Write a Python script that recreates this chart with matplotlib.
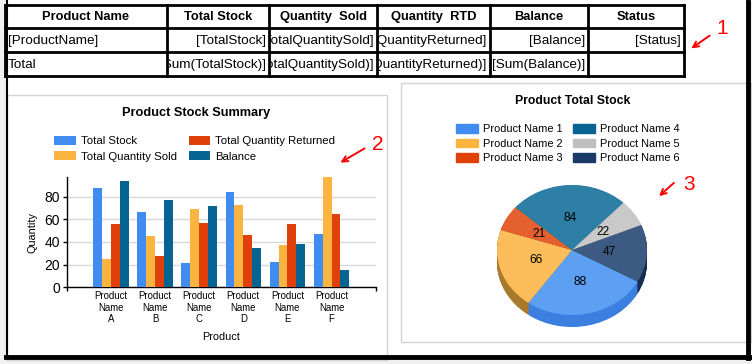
import numpy as np
import matplotlib
matplotlib.use("Agg")
import matplotlib.pyplot as plt
from matplotlib.patches import Rectangle, Patch

plt.rcParams['font.family'] = ['Liberation Sans', 'DejaVu Sans']

# ---- data ----
categories = ['A', 'B', 'C', 'D', 'E', 'F']
total_stock = [88, 66, 21, 84, 22, 47]
qty_sold = [25, 45, 69, 73, 37, 97]
qty_returned = [56, 28, 57, 46, 56, 65]
balance = [94, 77, 72, 35, 38, 15]
series_names = ['Total Stock', 'Total Quantity Sold', 'Total Quantity Returned', 'Balance']

pie_labels = ['Product Name 1', 'Product Name 2', 'Product Name 3',
              'Product Name 4', 'Product Name 5', 'Product Name 6']
pie_values = [88, 66, 21, 84, 22, 47]

table_headers = ['Product Name', 'Total Stock', 'Quantity  Sold', 'Quantity  RTD', 'Balance', 'Status']
table_detail = ['[ProductName]', '[TotalStock]', '[TotalQuantitySold]', '[QuantityReturned]', '[Balance]', '[Status]']
table_total = ['Total', '[Sum(TotalStock)]', '[Sum(TotalQuantitySold)]', '[Sum(QuantityReturned)]', '[Sum(Balance)]', '']

palette = ['#418CF0', '#FCB441', '#E0400A', '#056492', '#BFBFBF', '#1A3B69']
pie_top = ['#5d9ff2', '#fcbd5a', '#e4612f', '#2d7fa6', '#c9c9c9', '#3d5b82']
pie_side = ['#3b7fe0', '#a9792c', '#a3401a', '#1c5a78', '#8f8f8f', '#172e4e']

W, H = 752, 364
fig = plt.figure(figsize=(W / 100, H / 100), dpi=100)
fig.patch.set_facecolor('#f0f0f0')


def px_axes(x0, y0, x1, y1, **kw):
    return fig.add_axes([x0 / W, 1 - y1 / H, (x1 - x0) / W, (y1 - y0) / H], **kw)


# page background + panels
bg = fig.add_axes([0, 0, 1, 1], zorder=0)
bg.set_xlim(0, W)
bg.set_ylim(H, 0)
bg.axis('off')
bg.add_patch(Rectangle((6, -2), 741, 358, facecolor='white', edgecolor='none'))
bg.add_patch(Rectangle((7, 95), 380, 265, facecolor='white', edgecolor='#d3d3d3', lw=1))
bg.add_patch(Rectangle((401, 83), 350, 259, facecolor='white', edgecolor='#d3d3d3', lw=1))

# ---- table ----
col_x = [5, 167, 269, 377, 490, 588, 684]
row_y = [5, 28, 52, 76]
rows = [(table_headers, 'bold', ['center'] * 6),
        (table_detail, 'normal', ['left'] + ['right'] * 5),
        (table_total, 'normal', ['left'] + ['right'] * 5)]
for r, (texts, weight, aligns) in enumerate(rows):
    for c, txt in enumerate(texts):
        cax = px_axes(col_x[c] + 1.5, row_y[r] + 1.5, col_x[c + 1] - 1.5, row_y[r + 1] - 1.5, zorder=2)
        cax.set_xlim(0, 1)
        cax.set_ylim(0, 1)
        cax.axis('off')
        xpos = {'left': 0.01, 'right': 0.985, 'center': 0.5}[aligns[c]]
        cax.text(xpos, 0.47, txt, ha=aligns[c], va='center',
                 fontsize=9.3 if weight == 'bold' else 9.7,
                 fontweight=weight, color='black', clip_on=True)

ov = fig.add_axes([0, 0, 1, 1], zorder=10)
ov.set_xlim(0, W)
ov.set_ylim(H, 0)
ov.axis('off')
for yy in row_y:
    ov.plot([col_x[0], col_x[-1]], [yy, yy], color='black', lw=2, solid_capstyle='projecting')
for xx in col_x:
    ov.plot([xx, xx], [row_y[0], row_y[-1]], color='black', lw=2, solid_capstyle='projecting')

# page edges
ov.plot([6.5, 6.5], [0, 356], color='black', lw=1.5)
ov.plot([748, 748], [2, 358], color='black', lw=3.5)
ov.plot([6, 750], [357, 357], color='black', lw=3.5)

# ---- bar chart ----
fig.text(196 / W, 1 - 113 / H, 'Product Stock Summary', ha='center', va='center',
         fontsize=9.2, fontweight='bold', color='black')
bax = px_axes(66.7, 177.3, 375.7, 287.3, zorder=3)
x = np.arange(1, len(categories) + 1)
width = 0.2
all_series = [total_stock, qty_sold, qty_returned, balance]
bars = []
for i, vals in enumerate(all_series):
    b = bax.bar(x + (i - 1.5) * width, vals, width, color=palette[i], label=series_names[i], zorder=3)
    bars.append(b)
bax.set_xlim(0, 7)
bax.set_ylim(0, 97)
bax.set_yticks([0, 20, 40, 60, 80])
bax.yaxis.grid(True, color='#d9d9d9', lw=1, zorder=0)
bax.set_axisbelow(True)
bax.set_xticks(x)
bax.set_xticklabels(['Product\nName\n' + c for c in categories], fontsize=6.9, linespacing=1.15)
bax.set_xticks([0, 7], minor=True)
bax.tick_params(axis='x', which='major', length=0, pad=3)
bax.tick_params(axis='x', which='minor', length=3, width=1, direction='out')
bax.tick_params(axis='y', length=3, width=1, labelsize=10, pad=2)
for s in ['top', 'right']:
    bax.spines[s].set_visible(False)
bax.spines['left'].set_linewidth(1)
bax.spines['bottom'].set_linewidth(1)
bax.set_ylabel('Quantity', fontsize=7.8, labelpad=5)
bax.set_xlabel('Product', fontsize=7.8, labelpad=6)
fig.legend(handles=bars, labels=series_names, loc='upper left',
           bbox_to_anchor=(54 / W, 1 - 136 / H), ncol=2, frameon=False, fontsize=8.2,
           handlelength=1.9, handleheight=0.85, handletextpad=0.45, columnspacing=1.05,
           labelspacing=0.4, borderpad=0, borderaxespad=0)

# ---- 3D-ish pie ----
fig.text(573 / W, 1 - 101 / H, 'Product Total Stock', ha='center', va='center',
         fontsize=8.8, fontweight='bold', color='black')
cx, cy, rx, ry, depth = 572, 250, 75, 65, 12
pax = px_axes(cx - 80, cy - 70, cx + 80, cy + 85, zorder=3)
nlayers = 24
for k in range(nlayers, 0, -1):
    pax.pie(pie_values, colors=pie_side, startangle=-29, counterclock=False,
            center=(0, -depth / ry * k / nlayers), radius=1, wedgeprops=dict(linewidth=0))
total = sum(pie_values)
pax.pie(pie_values, colors=pie_top, startangle=-29, counterclock=False, radius=1,
        wedgeprops=dict(linewidth=0), autopct=lambda p: f'{p * total / 100:.0f}',
        pctdistance=0.5, textprops=dict(fontsize=8.6, color='black'))
pax.set_aspect('auto')
pax.set_xlim(-80 / rx, 80 / rx)
pax.set_ylim(-85 / ry, 70 / ry)
pax.axis('off')
pie_handles = [Patch(color=c) for c in palette]
fig.legend(handles=pie_handles, labels=pie_labels, loc='upper left',
           bbox_to_anchor=(456 / W, 1 - 124 / H), ncol=2, frameon=False, fontsize=7.9,
           handlelength=2.0, handleheight=0.85, handletextpad=0.45, columnspacing=0.95,
           labelspacing=0.4, borderpad=0, borderaxespad=0)

# ---- red hand annotations ----
ann = dict(arrowstyle='->', color='red', lw=1.4)
ov.annotate('', xy=(689, 50), xytext=(712, 34), arrowprops=ann)
ov.text(722, 28, '1', color='red', fontsize=15, ha='center', va='center')
ov.annotate('', xy=(338, 164), xytext=(367, 147), arrowprops=ann)
ov.text(378, 145, '2', color='red', fontsize=15, ha='center', va='center')
ov.annotate('', xy=(657, 198), xytext=(676, 181), arrowprops=ann)
ov.text(689, 185, '3', color='red', fontsize=15, ha='center', va='center')

fig.savefig('out.png', dpi=100, facecolor=fig.get_facecolor())
